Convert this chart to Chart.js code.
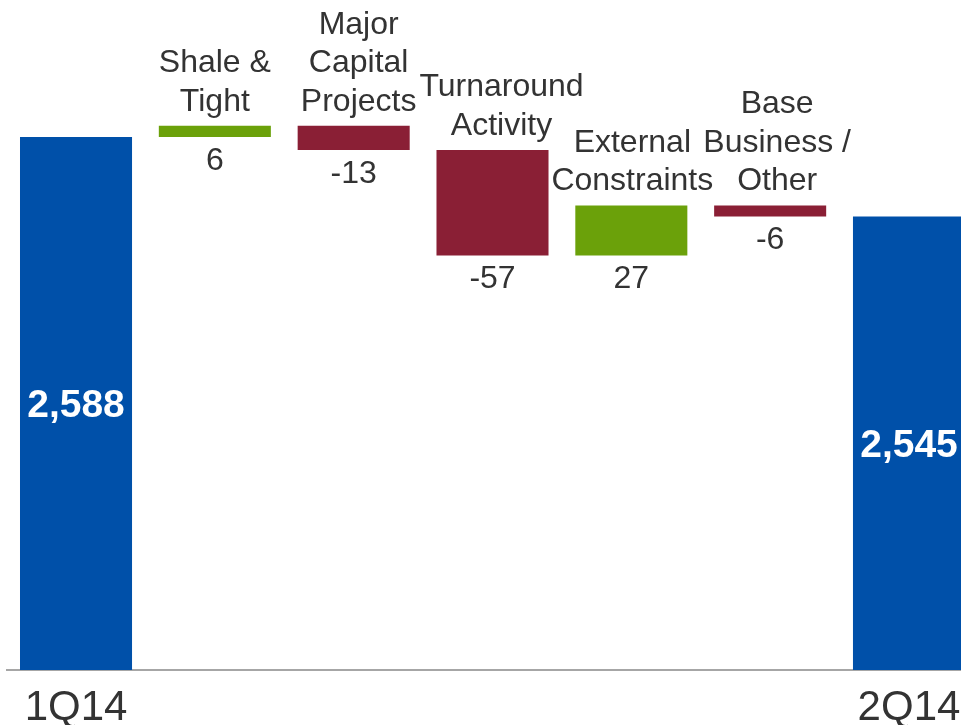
<!DOCTYPE html>
<html>
<head>
<meta charset="utf-8">
<title>Production bridge 1Q14 to 2Q14</title>
<script src="https://cdn.jsdelivr.net/npm/chart.js@4.4.1/dist/chart.umd.min.js"></script>
<style>
  html, body { margin: 0; padding: 0; background: #fff; overflow: hidden; }
  #wrap { position: absolute; left: 0; top: 0; width: 985px; height: 725px; }
</style>
</head>
<body>
<div id="wrap"><canvas id="bridge"></canvas></div>
<script>
const categories = ["1Q14", "Shale & Tight", "Major Capital Projects", "Turnaround Activity", "External Constraints", "Base Business / Other", "2Q14"];
const labelLines = [[], ["Shale &", "Tight"], ["Major", "Capital", "Projects"], ["Turnaround", "Activity"], ["External", "Constraints"], ["Base", "Business /", "Other"], []];
const startTotal = 2588;
const changes = [6, -13, -57, 27, -6];
const endTotal = 2545;

const BLUE = "#0050a9";
const GREEN = "#6ba10a";
const MAROON = "#8a1f35";
const TEXT = "#333333";
const FONT = '"Liberation Sans", Arial, sans-serif';

// floating [from, to] ranges for each step of the bridge
let ranges = [[2300, startTotal]];
let colors = [BLUE];
let level = startTotal;
changes.forEach((c) => {
  ranges.push([level, level + c]);
  colors.push(c >= 0 ? GREEN : MAROON);
  level += c;
});
ranges.push([2300, endTotal]);
colors.push(BLUE);
const shown = [startTotal].concat(changes, [endTotal]);

const waterfallLabels = {
  id: "waterfallLabels",
  afterDatasetsDraw(chart, args, opts) {
    const ctx = chart.ctx;
    const bars = chart.getDatasetMeta(0).data;
    const last = bars.length - 1;
    ctx.save();
    ctx.textAlign = "center";
    ctx.textBaseline = "middle";
    bars.forEach((bar, i) => {
      const top = Math.min(bar.y, bar.base);
      const bottom = Math.max(bar.y, bar.base);
      if (i === 0 || i === last) {
        ctx.font = "bold 39px " + FONT;
        ctx.fillStyle = "#ffffff";
        ctx.fillText(shown[i].toLocaleString("en-US"), bar.x, (top + bottom) / 2 + 3);
        ctx.font = "42px " + FONT;
        ctx.fillStyle = TEXT;
        ctx.fillText(categories[i], bar.x, chart.chartArea.bottom + 38);
        return;
      }
      ctx.font = "32px " + FONT;
      ctx.fillStyle = TEXT;
      const lines = labelLines[i];
      const dx = opts.shift[i] || 0;
      lines.forEach((line, k) => {
        const y = top - 24 - (lines.length - 1 - k) * 38.5;
        ctx.fillText(line, bar.x + dx, y);
      });
      ctx.fillText(String(shown[i]), bar.x, bottom + 24);
    });
    ctx.restore();
  }
};

new Chart(document.getElementById("bridge"), {
  type: "bar",
  data: {
    labels: categories,
    datasets: [
      {
        data: ranges,
        backgroundColor: colors,
        borderWidth: 0,
        barPercentage: 0.807,
        categoryPercentage: 1,
      },
    ],
  },
  options: {
    responsive: true,
    maintainAspectRatio: false,
    animation: false,
    events: [],
    layout: { padding: { left: 6.6, right: 6.6, top: 0, bottom: 55 } },
    plugins: {
      legend: { display: false },
      tooltip: { enabled: false },
      waterfallLabels: { shift: [0, 0, 5, 9, 1, 7, 0] },
    },
    scales: {
      x: {
        grid: { display: false, drawTicks: false },
        border: { display: true, color: "#a6a6a6", width: 2 },
        ticks: { display: false },
      },
      y: {
        display: false,
        min: 2300,
        max: 2662,
      },
    },
  },
  plugins: [waterfallLabels],
});
</script>
</body>
</html>
